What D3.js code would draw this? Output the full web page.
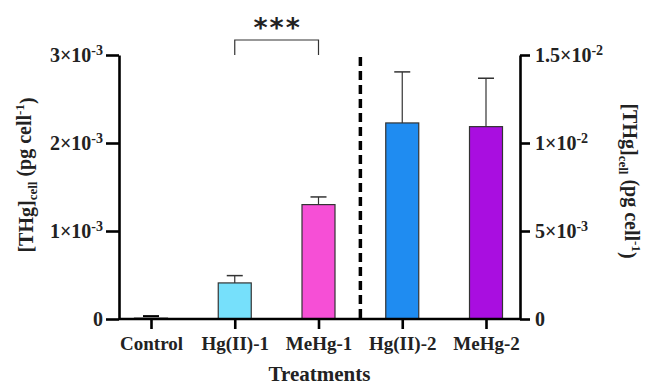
<!DOCTYPE html>
<html><head><meta charset="utf-8">
<script src="https://cdn.jsdelivr.net/npm/d3@7/dist/d3.min.js"></script>
<style>body{margin:0;background:#fff}svg{display:block}text{font-family:"Liberation Serif","Times New Roman",serif;font-weight:bold;fill:#222}</style>
</head><body><svg id="c" width="646" height="386"></svg>
<script>
const categories = ["Control","Hg(II)-1","MeHg-1","Hg(II)-2","MeHg-2"];
const values = [1.5e-5, 4.1e-4, 1.30e-3, 1.114e-2, 1.093e-2];
const errors = [1.5e-5, 0.83e-4, 0.087e-3, 0.29e-2, 0.275e-2];
const sides = ["left","left","left","right","right"];
const colors = ["#ffffff","#76e0fb","#f64fd6","#1f8cf1","#a90ee0"];
const leftTicks = [0, 1e-3, 2e-3, 3e-3];
const leftTickLabels = [["0",""],["1×10","-3"],["2×10","-3"],["3×10","-3"]];
const rightTicks = [0, 5e-3, 1e-2, 1.5e-2];
const rightTickLabels = [["0",""],["5×10","-3"],["1×10","-2"],["1.5×10","-2"]];
const sigLabel = "***";

const svg = d3.select("#c");
const L = 119, R = 520, T = 55, B = 319;
const x = d3.scalePoint().domain(categories).range([151, 486]);
const yL = d3.scaleLinear().domain([0, 3e-3]).range([B, T]);
const yR = d3.scaleLinear().domain([0, 1.5e-2]).range([B, T]);
const barW = 33;

// bars
categories.forEach((c, i) => {
  const y = sides[i] === "left" ? yL : yR;
  const cx = x(c);
  const top = y(values[i] + errors[i]);
  svg.append("line").attr("x1", cx).attr("x2", cx).attr("y1", y(values[i])).attr("y2", top)
    .attr("stroke", "#333").attr("stroke-width", 1.2);
  svg.append("line").attr("x1", cx - 8).attr("x2", cx + 8).attr("y1", top).attr("y2", top)
    .attr("stroke", i === 0 ? "#000" : "#333").attr("stroke-width", i === 0 ? 2.5 : 1.5);
  svg.append("rect").attr("x", cx - barW / 2).attr("width", barW)
    .attr("y", y(values[i])).attr("height", B - y(values[i]))
    .attr("fill", colors[i]).attr("stroke", i === 0 ? "#999" : "#333").attr("stroke-width", 1.2);
});

function styleAxis(g) {
  g.selectAll("path.domain").attr("stroke", "#000").attr("stroke-width", 2.6);
  g.selectAll(".tick line").attr("stroke", "#000").attr("stroke-width", 2.6);
}
function supLabels(g, labels) {
  g.selectAll(".tick text").each(function(d, i) {
    const t = d3.select(this).text(null).style("font-size", "20px").attr("fill", "#222");
    t.append("tspan").text(labels[i][0]);
    if (labels[i][1]) t.append("tspan").attr("dy", "-0.5em").style("font-size", "14px").text(labels[i][1]);
  });
}

const gl = svg.append("g").attr("transform", `translate(${L},0)`)
  .call(d3.axisLeft(yL).tickValues(leftTicks).tickSize(13).tickSizeOuter(0).tickPadding(3).tickFormat(() => ""));
styleAxis(gl); supLabels(gl, leftTickLabels);
const gr = svg.append("g").attr("transform", `translate(${R},0)`)
  .call(d3.axisRight(yR).tickValues(rightTicks).tickSize(10).tickSizeOuter(0).tickPadding(5).tickFormat(() => ""));
styleAxis(gr); supLabels(gr, rightTickLabels);
const gb = svg.append("g").attr("transform", `translate(0,${B})`)
  .call(d3.axisBottom(x).tickSize(10).tickSizeOuter(0).tickPadding(8));
gb.select("path.domain").attr("d", `M${L},0H${R}`);
styleAxis(gb);
gb.selectAll(".tick text").style("font-size", "19px").attr("fill", "#222");

// dashed separator
const sepX = (x(categories[2]) + x(categories[3])) / 2;
svg.append("line").attr("x1", sepX).attr("x2", sepX).attr("y1", 57).attr("y2", B)
  .attr("stroke", "#000").attr("stroke-width", 3.5).attr("stroke-dasharray", "9,5");

// significance bracket
const bx1 = x(categories[1]), bx2 = x(categories[2]), by = 40;
svg.append("path").attr("d", `M${bx1},55V${by}H${bx2}V55`).attr("fill", "none").attr("stroke", "#333").attr("stroke-width", 1.2);
svg.append("text").attr("x", (bx1 + bx2) / 2 + 1).attr("y", 37).attr("text-anchor", "middle")
  .style("font-family", "'DejaVu Sans',sans-serif").style("font-size", "27px").style("letter-spacing", "2px").text(sigLabel);

// axis titles
svg.append("text").attr("x", (L + R) / 2).attr("y", 381).attr("text-anchor", "middle").style("font-size", "21px").text("Treatments");
function yTitle(xp, yp, rot) {
  const t = svg.append("text").attr("transform", `translate(${xp},${yp}) rotate(${rot})`).attr("text-anchor", "middle").style("font-size", "20px");
  t.append("tspan").text("[THg]");
  t.append("tspan").attr("dy", "0.3em").style("font-size", "13px").text("cell");
  t.append("tspan").attr("dy", "-0.3em").text(" (pg cell");
  t.append("tspan").attr("dy", "-0.5em").style("font-size", "13px").text("-1");
  t.append("tspan").attr("dy", "0.5em").text(")");
}
yTitle(33, 175, -90);
yTitle(623, 181, 90);
</script></body></html>
